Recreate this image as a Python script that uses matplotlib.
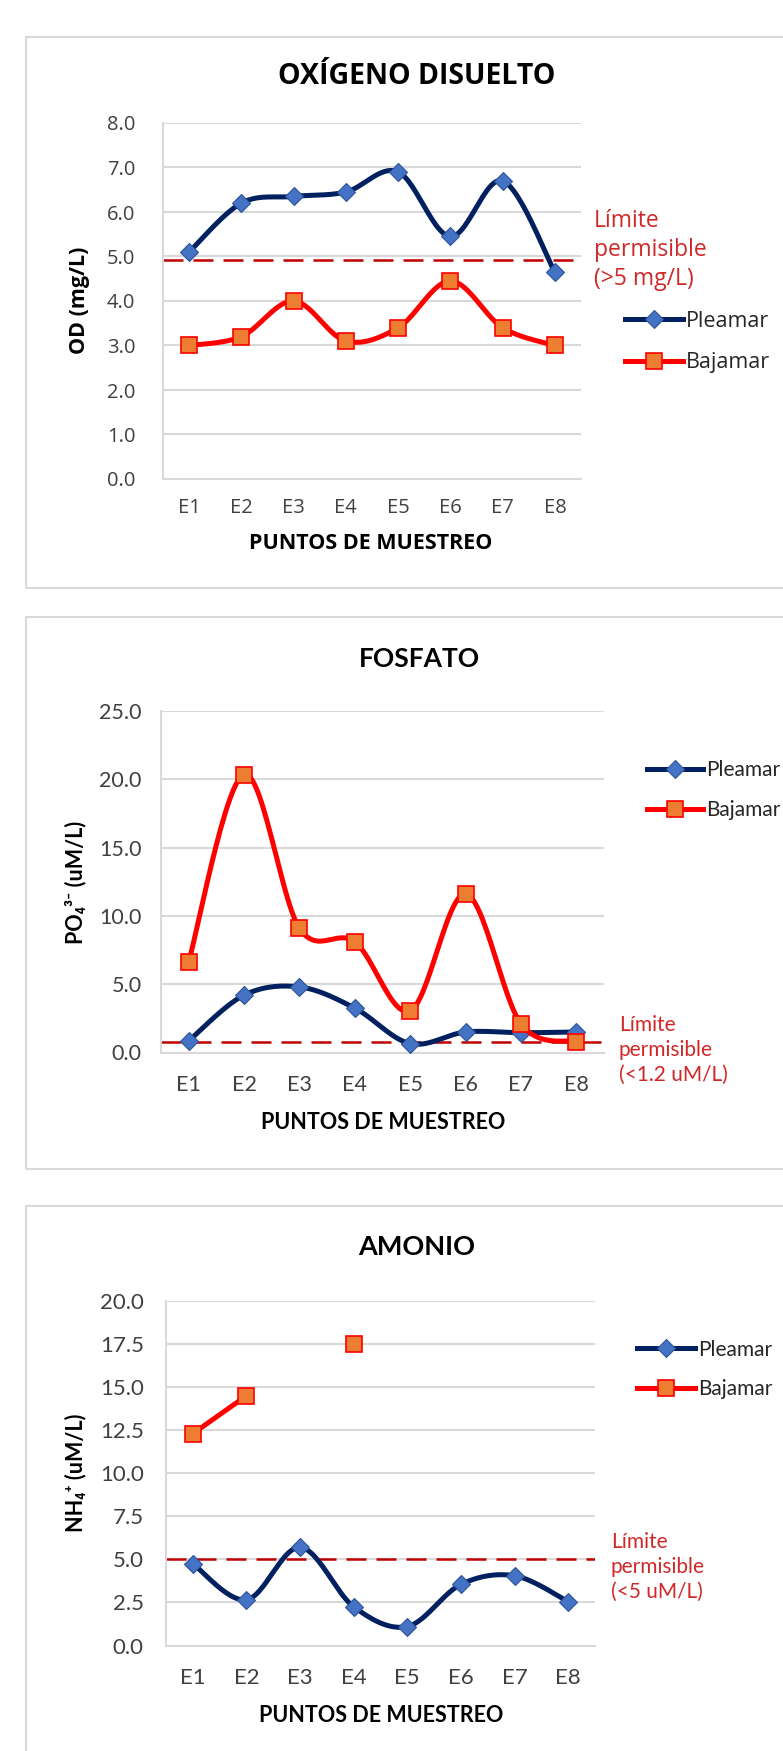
import numpy as np
import matplotlib
matplotlib.use('Agg')
import matplotlib.pyplot as plt
from matplotlib.patches import Rectangle
from matplotlib.ticker import MultipleLocator, FormatStrFormatter

# datos
estaciones = ['E1', 'E2', 'E3', 'E4', 'E5', 'E6', 'E7', 'E8']

od_pleamar = [5.1, 6.2, 6.35, 6.45, 6.9, 5.45, 6.7, 4.65]
od_bajamar = [3.0, 3.2, 4.0, 3.1, 3.4, 4.45, 3.4, 3.0]
od_limite = 4.93

po4_pleamar = [0.85, 4.2, 4.8, 3.25, 0.65, 1.5, 1.45, 1.5]
po4_bajamar = [6.65, 20.35, 9.1, 8.1, 3.05, 11.6, 2.1, 0.8]
po4_limite = 0.8

nh4_pleamar = [4.75, 2.65, 5.7, 2.25, 1.1, 3.55, 4.05, 2.55]
nh4_bajamar = [12.3, 14.5, np.nan, 17.5, np.nan, np.nan, np.nan, np.nan]
nh4_limite = 5.0

W, H = 783, 1751
AZUL = '#002060'
ROJO = '#FF0000'
LIMITE = '#C00000'
GRIS = '#D9D9D9'
TXT = '#404040'


def fx(x):
    return x / W


def fy(y):
    return 1 - y / H


def suavizar(x, y, n=30):
    # curva suavizada tipo Excel (Catmull-Rom como Bezier cubica)
    x = np.asarray(x, float)
    y = np.asarray(y, float)
    tramos = []
    ok = np.isfinite(y)
    i = 0
    while i < len(y):
        if not ok[i]:
            i += 1
            continue
        j = i
        while j + 1 < len(y) and ok[j + 1]:
            j += 1
        if j > i:
            px, py = x[i:j + 1], y[i:j + 1]
            xs, ys = [], []
            m = len(px)
            for k in range(m - 1):
                p0 = np.array([px[max(k - 1, 0)], py[max(k - 1, 0)]])
                p1 = np.array([px[k], py[k]])
                p2 = np.array([px[k + 1], py[k + 1]])
                p3 = np.array([px[min(k + 2, m - 1)], py[min(k + 2, m - 1)]])
                b1 = p1 + (p2 - p0) / 6
                b2 = p2 - (p3 - p1) / 6
                t = np.linspace(0, 1, n)[:, None]
                c = ((1 - t) ** 3) * p1 + 3 * ((1 - t) ** 2) * t * b1 \
                    + 3 * (1 - t) * t ** 2 * b2 + t ** 3 * p2
                xs.extend(c[:, 0])
                ys.extend(c[:, 1])
            tramos.append((xs, ys))
        i = j + 1
    return tramos


def panel(fig, caja, eje, titulo, ylab, pleamar, bajamar, limite, ymax, paso,
          fam, tam, tam_tit, tam_lab, tam_lim, tam_ley, leyenda, texto_lim,
          pos_lim, pos_tit, pos_ylab, pos_xlab, pad_y, pad_x, largo):
    fig.add_artist(Rectangle((fx(caja[0]), fy(caja[3])), fx(caja[2] - caja[0]),
                             (caja[3] - caja[1]) / H, transform=fig.transFigure,
                             fill=False, edgecolor=GRIS, lw=1.5))
    l, r, t, b = eje
    ax = fig.add_axes([fx(l), fy(b), fx(r - l), (b - t) / H])
    x = np.arange(len(estaciones))

    ax.axhline(limite, color=LIMITE, lw=1.8, dashes=(8, 4), zorder=2)

    for xs, ys in suavizar(x, pleamar):
        ax.plot(xs, ys, color=AZUL, lw=3.6, zorder=3, solid_capstyle='round')
    ax.plot(x, pleamar, ls='none', marker='D', ms=9, mfc='#4472C4',
            mec='#2F5597', mew=0.8, zorder=4)
    for xs, ys in suavizar(x, bajamar):
        ax.plot(xs, ys, color=ROJO, lw=3.6, zorder=5, solid_capstyle='round')
    ax.plot(x, bajamar, ls='none', marker='s', ms=11.5, mfc='#ED7D31',
            mec=ROJO, mew=1.2, zorder=6)

    h1, = ax.plot([], [], color=AZUL, lw=3.6, marker='D', ms=9,
                  mfc='#4472C4', mec='#2F5597', mew=0.8)
    h2, = ax.plot([], [], color=ROJO, lw=3.6, marker='s', ms=11.5,
                  mfc='#ED7D31', mec=ROJO, mew=1.2)

    ax.set_xlim(-0.5, len(estaciones) - 0.5)
    ax.set_ylim(0, ymax)
    ax.yaxis.set_major_locator(MultipleLocator(paso))
    ax.yaxis.set_major_formatter(FormatStrFormatter('%.1f'))
    ax.set_xticks(x)
    ax.set_xticklabels(estaciones)
    ax.grid(axis='y', color=GRIS, lw=1.5, zorder=0)
    ax.set_axisbelow(True)
    for s in ['top', 'right']:
        ax.spines[s].set_visible(False)
    ax.spines['left'].set_color(GRIS)
    ax.spines['bottom'].set_color(GRIS)
    ax.spines['left'].set_linewidth(1.5)
    ax.spines['bottom'].set_linewidth(1.5)
    ax.tick_params(length=0, labelsize=tam, labelcolor=TXT)
    ax.tick_params(axis='y', pad=pad_y)
    ax.tick_params(axis='x', pad=pad_x)
    for lab in ax.get_xticklabels() + ax.get_yticklabels():
        lab.set_family(fam)

    fig.text(fx(pos_tit[0]), fy(pos_tit[1]), titulo, ha='center', va='center',
             fontsize=tam_tit, fontweight='bold', family=fam, color='black')
    fig.text(fx(pos_ylab[0]), fy(pos_ylab[1]), ylab, ha='center', va='center',
             rotation=90, fontsize=tam_lab, fontweight='bold',
             family=[fam, 'DejaVu Sans'], color='black')
    fig.text(fx(pos_xlab[0]), fy(pos_xlab[1]), 'PUNTOS DE MUESTREO', ha='center',
             va='center', fontsize=tam_lab, fontweight='bold', family=fam,
             color='black')
    fig.text(fx(pos_lim[0]), fy(pos_lim[1]), texto_lim, ha='left', va='center',
             fontsize=tam_lim, family=fam, color='#D02828', linespacing=1.3)

    leg = ax.legend([h1, h2], ['Pleamar', 'Bajamar'], loc='center left',
                    bbox_to_anchor=(fx(leyenda[0]), fy(leyenda[1])),
                    bbox_transform=fig.transFigure, frameon=False, borderpad=0,
                    borderaxespad=0, handlelength=largo, handletextpad=0.15,
                    labelspacing=0.95, prop={'family': fam, 'size': tam_ley})
    for txt in leg.get_texts():
        txt.set_color('#262626')
    return ax


fig = plt.figure(figsize=(W / 100, H / 100), dpi=100)
fig.patch.set_facecolor('white')

panel(fig, (26, 37, 820, 588), (163, 581, 123, 479), 'OXÍGENO DISUELTO',
      'OD (mg/L)', od_pleamar, od_bajamar, od_limite, 8, 1, 'Open Sans',
      14.5, 20.5, 15.5, 16.5, 15.5, (625, 342), 'Límite\npermisible\n(>5 mg/L)',
      (594, 250), (417, 76), (80, 300), (371, 543), 20, 14, 2.7)

panel(fig, (26, 617, 820, 1169), (161, 604, 711, 1052.5), 'FOSFATO',
      'PO₄³⁻ (uM/L)', po4_pleamar, po4_bajamar, po4_limite, 25, 5, 'Lato',
      15.5, 19, 15.5, 15, 15, (647, 790), 'Límite\npermisible\n(<1.2 uM/L)',
      (619, 1050), (419, 659), (76, 882), (383, 1122), 14, 16, 2.7)

panel(fig, (26, 1206, 820, 1800), (166, 595, 1301, 1645.5), 'AMONIO',
      'NH₄⁺ (uM/L)', nh4_pleamar, nh4_bajamar, nh4_limite, 20, 2.5, 'Lato',
      16, 19.5, 15.5, 15, 15, (637, 1369.5), 'Límite\npermisible\n(<5 uM/L)',
      (611, 1567), (417, 1247), (76, 1473), (381, 1715), 16, 16, 2.8)

fig.savefig('out.png', dpi=100)
